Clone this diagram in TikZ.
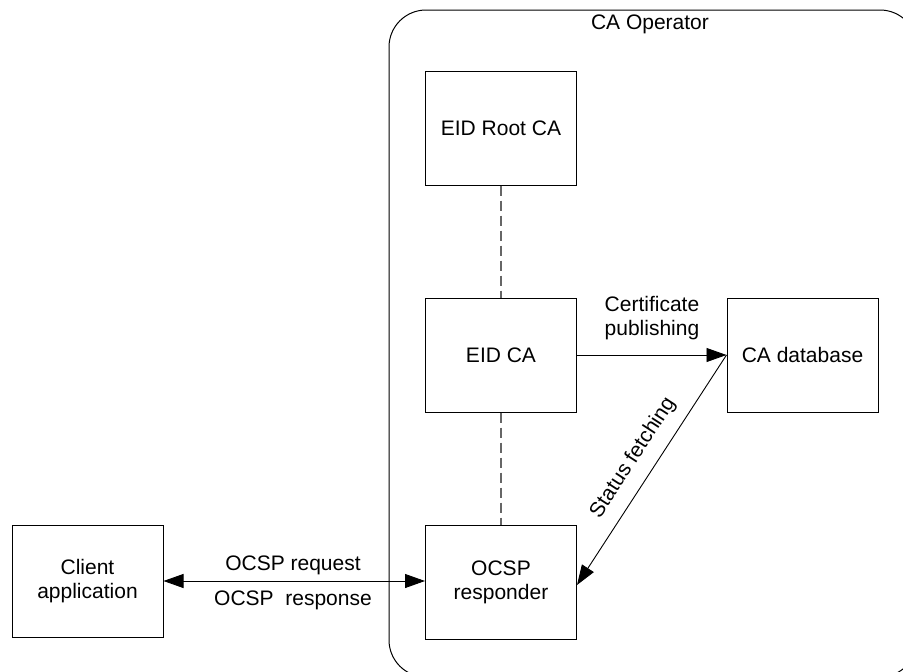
\documentclass[tikz,border=0pt]{standalone}
\usepackage{fontspec}
\setmainfont{Liberation Sans}
\usetikzlibrary{arrows.meta}
\tikzset{
  box/.style={draw=black, line width=1pt, minimum width=151pt, minimum height=114pt, align=center, inner sep=0pt},
  dashlink/.style={draw=gray!80!black, line width=1.2pt, dash pattern=on 10pt off 5pt},
  arr/.style={draw=black, line width=0.9pt, -{Triangle[length=20pt,width=14pt]}},
  lbl/.style={align=center, inner sep=0pt}
}
\begin{document}
\begin{tikzpicture}[x=1pt,y=-1pt,font=\fontsize{21}{24.5}\selectfont]
\useasboundingbox[fill=white] (0,0) rectangle (903,672);
\begin{scope}
\clip (0,0) rectangle (903,672);
\node[draw=black, line width=1pt, rounded corners=37pt, minimum width=528pt, minimum height=667pt, inner sep=0pt] (operator) at (653,343.5) {};
\end{scope}
\node[lbl] (oplabel) at (650,24) {CA Operator};
\node[box] (root) at (501,128) {EID Root CA};
\node[box] (eidca) at (501,355) {EID CA};
\node[box] (resp) at (501,582.5) {OCSP\\responder};
\node[box] (db) at (802.5,355) {CA database};
\node[box, minimum height=112pt] (client) at (87.5,581) {Client\\application};
\draw[dashlink] (root.south) -- (eidca.north);
\draw[dashlink] (eidca.south) -- (resp.north);
\draw[arr] (eidca.east) -- (db.west);
\draw[arr] (db.west) -- node[lbl, sloped, above=12pt] (statlbl) {Status fetching} ([yshift=-2.5pt]resp.east);
\draw[arr, {Triangle[length=20pt,width=14pt]}-{Triangle[length=20pt,width=14pt]}] (client.east) -- (resp.west |- client.east);
\node[lbl] (pub) at (652,318) {Certificate\\publishing};
\node[lbl] (req) at (293,565) {OCSP request};
\node[lbl] (res) at (293,600) {OCSP\ \ response};
\end{tikzpicture}
\end{document}
